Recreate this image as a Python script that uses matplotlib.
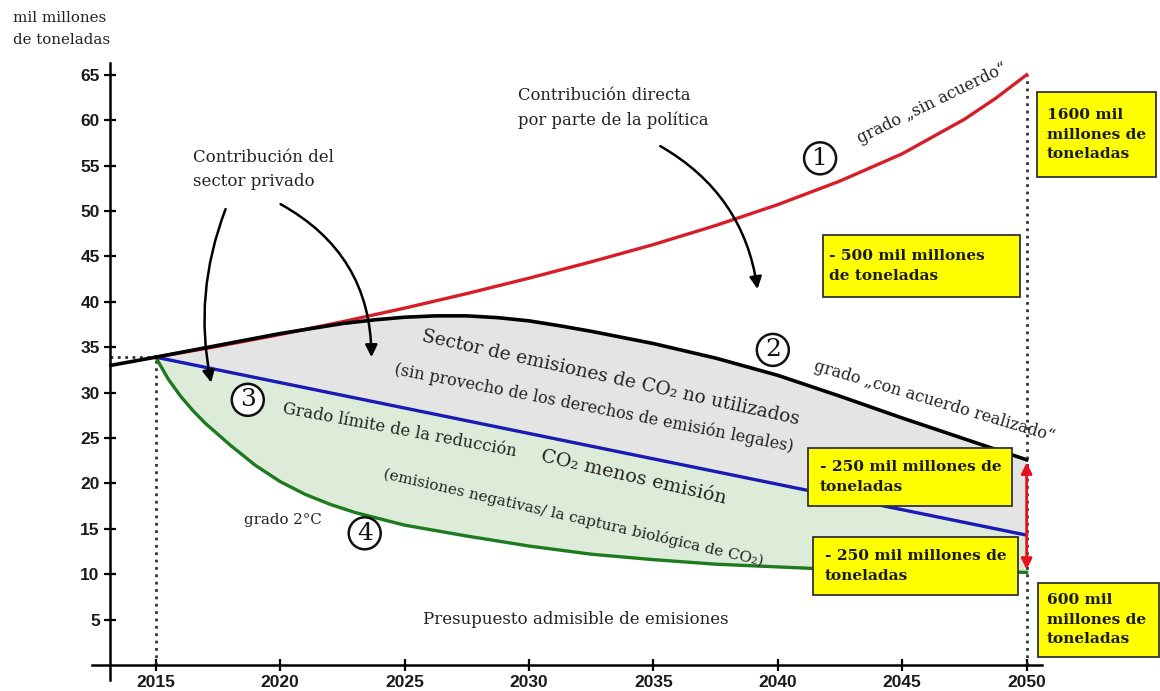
import numpy as np
import matplotlib
matplotlib.use("Agg")
import matplotlib.pyplot as plt
from matplotlib.patches import FancyArrowPatch, Rectangle

# valores (mil millones de toneladas)
years_red = [2015, 2017.5, 2020, 2022.5, 2025, 2027.5, 2030, 2032.5, 2035,
             2037.5, 2040, 2042.5, 2045, 2047.5, 2048.75, 2050]
red_vals = [33.9, 35.1, 36.4, 37.8, 39.3, 40.9, 42.6, 44.4, 46.3,
            48.4, 50.7, 53.3, 56.3, 60.1, 62.4, 65.0]

years_black = [2013.2, 2015, 2017.5, 2020, 2022.5, 2023.75, 2025, 2026.25,
               2027.5, 2028.75, 2030, 2031.25, 2032.5, 2035, 2037.5, 2040,
               2042.5, 2045, 2047.5, 2050]
black_vals = [33.0, 33.9, 35.2, 36.5, 37.6, 38.0, 38.3, 38.45,
              38.45, 38.25, 37.9, 37.35, 36.75, 35.4, 33.8, 31.9,
              29.6, 27.2, 24.9, 22.6]

years_green = [2015, 2015.5, 2016, 2016.5, 2017, 2018, 2019, 2020, 2021, 2022,
               2023, 2024, 2025, 2027.5, 2030, 2032.5, 2035, 2037.5, 2040,
               2042.5, 2045, 2047.5, 2050]
green_vals = [33.9, 31.5, 29.6, 28.0, 26.6, 24.2, 22.0, 20.2, 18.8, 17.7,
              16.8, 16.1, 15.4, 14.2, 13.1, 12.2, 11.6, 11.1, 10.8,
              10.5, 10.4, 10.3, 10.2]

years_blue = [2015, 2050]
blue_vals = [33.9, 14.3]

xticks = [2015, 2020, 2025, 2030, 2035, 2040, 2045, 2050]
yticks = [5, 10, 15, 20, 25, 30, 35, 40, 45, 50, 55, 60, 65]

# cuadros amarillos: texto y caja
box_texts = ["1600 mil\nmillones de\ntoneladas",
             "- 500 mil millones\nde toneladas",
             "- 250 mil millones de\ntoneladas",
             "- 250 mil millones de\ntoneladas",
             "600 mil\nmillones de\ntoneladas"]
box_x = [(2050.43, 2055.21), (2041.82, 2049.75), (2041.2, 2049.43),
         (2041.4, 2049.67), (2050.47, 2055.33)]
box_y = [(53.7, 63.1), (40.53, 47.36), (17.5, 23.9), (7.7, 14.1), (0.88, 9.03)]
box_text_x = [2050.8, 2042.07, 2041.68, 2041.88, 2050.8]

SERIF = "DejaVu Serif"
TXT = "#222222"

fig = plt.figure(figsize=(11.6, 6.91), dpi=100)
ax = fig.add_axes([0.0793, 0.01534, 0.8186, 0.8935])
ax.set_xlim(2012.44, 2050.6)
ax.set_ylim(-1.7, 66.3)

# areas
xb = np.array(years_black[1:])
xg = np.array(years_green)
ax.fill_between(xb, np.interp(xb, years_blue, blue_vals), black_vals[1:],
                color="#e4e4e4", lw=0, zorder=1)
ax.fill_between(xg, green_vals, np.interp(xg, years_blue, blue_vals),
                color="#dcecd8", lw=0, zorder=1)

ax.plot(years_green, green_vals, color="#1e7a1e", lw=2.4, zorder=3)
ax.plot(years_blue, blue_vals, color="#1a1ab4", lw=2.4, zorder=3)
ax.plot(years_red, red_vals, color="#d71e28", lw=2.4, zorder=4)
ax.plot(years_black, black_vals, color="black", lw=2.6, zorder=5)

# lineas punteadas
ax.plot([2013.17, 2015], [33.9, 33.9], color="#333333", ls=":", lw=2, zorder=2)
ax.plot([2015, 2015], [0, 33.9], color="#333333", ls=":", lw=2, zorder=2)
ax.plot([2050, 2050], [0, 65], color="#333333", ls=":", lw=2, zorder=2)

# flecha roja doble
ax.add_patch(FancyArrowPatch((2050, black_vals[-1]), (2050, green_vals[-1]),
                             arrowstyle="<|-|>", mutation_scale=16,
                             color="#e8121e", lw=2, zorder=6))

# ejes
for s in ["top", "right"]:
    ax.spines[s].set_visible(False)
ax.spines["left"].set_position(("data", 2013.17))
ax.spines["bottom"].set_position(("data", 0))
ax.spines["left"].set_linewidth(1.8)
ax.spines["bottom"].set_linewidth(1.8)
ax.set_xticks(xticks)
ax.set_yticks(yticks)
ax.tick_params(direction="inout", length=9, width=1.6, pad=3)
for lab in ax.get_xticklabels() + ax.get_yticklabels():
    lab.set_fontfamily("Liberation Sans")
    lab.set_fontweight("bold")
    lab.set_fontsize(12.5)
    lab.set_color("#1a1a1a")

fig.text(13 / 1160, 1 - 11 / 691, "mil millones\nde toneladas", family=SERIF,
         fontsize=10.8, va="top", ha="left", linespacing=1.75, color=TXT)


def note(x, y, s, size=10.5, rot=0, **kw):
    ax.text(x, y, s, family=SERIF, fontsize=size, rotation=rot, color=TXT,
            rotation_mode="anchor", ha=kw.pop("ha", "center"),
            va=kw.pop("va", "center"), zorder=7, **kw)


note(2033.3, 31.6, "Sector de emisiones de CO\u2082 no utilizados", 13.4, -12.5)
note(2032.6, 28.3, "(sin provecho de los derechos de emisión legales)", 11.6, -11)
note(2024.8, 25.9, "Grado límite de la reducción", 11.8, -10.5)
note(2034.2, 20.6, "CO\u2082 menos emisión", 13.8, -13)
note(2031.8, 16.2, "(emisiones negativas/ la captura biológica de CO\u2082)", 11.0, -13)
note(2046.3, 29.0, "grado \u201econ acuerdo realizado\u201c", 11.6, -16.5)
note(2046.2, 61.9, "grado \u201esin acuerdo\u201c", 11.6, 26)
note(2020.1, 16.0, "grado 2°C", 10.8)
note(2031.9, 5.0, "Presupuesto admisible de emisiones", 12)
note(2016.5, 54.6, "Contribución del\nsector privado", 12, ha="left",
     linespacing=1.55)
note(2029.55, 61.3, "Contribución directa\npor parte de la política", 11.8,
     ha="left", linespacing=1.55)

# numeros en circulo
for x, y, n in [(2041.7, 55.8, "1"), (2039.8, 34.7, "2"),
                (2018.7, 29.2, "3"), (2023.4, 14.5, "4")]:
    ax.text(x, y, n, family=SERIF, fontsize=18, ha="center", va="center",
            zorder=8, color="#111111",
            bbox=dict(boxstyle="circle,pad=0.18", fc="white", ec="#111111",
                      lw=1.8))

# cuadros amarillos
for (x0, x1), (y0, y1), tx, s in zip(box_x, box_y, box_text_x, box_texts):
    ax.add_patch(Rectangle((x0, y0), x1 - x0, y1 - y0, fc="#ffff00",
                           ec="#333333", lw=1.3, zorder=9, clip_on=False))
    ax.text(tx, (y0 + y1) / 2, s, family=SERIF, fontsize=11.1,
            fontweight="bold", ha="left", va="center", linespacing=1.5,
            color="#1a1a1a", zorder=10, clip_on=False)

# flechas curvas
arrows = [((2017.85, 50.5), (2017.25, 30.8), 0.15),
          ((2019.92, 50.9), (2023.67, 33.6), -0.3),
          ((2035.18, 57.3), (2039.2, 41.1), -0.25)]
for a, b, rad in arrows:
    ax.add_patch(FancyArrowPatch(a, b, connectionstyle=f"arc3,rad={rad}",
                                 arrowstyle="-|>", mutation_scale=18,
                                 color="black", lw=1.8, zorder=8))

fig.savefig("out.png", dpi=100)
